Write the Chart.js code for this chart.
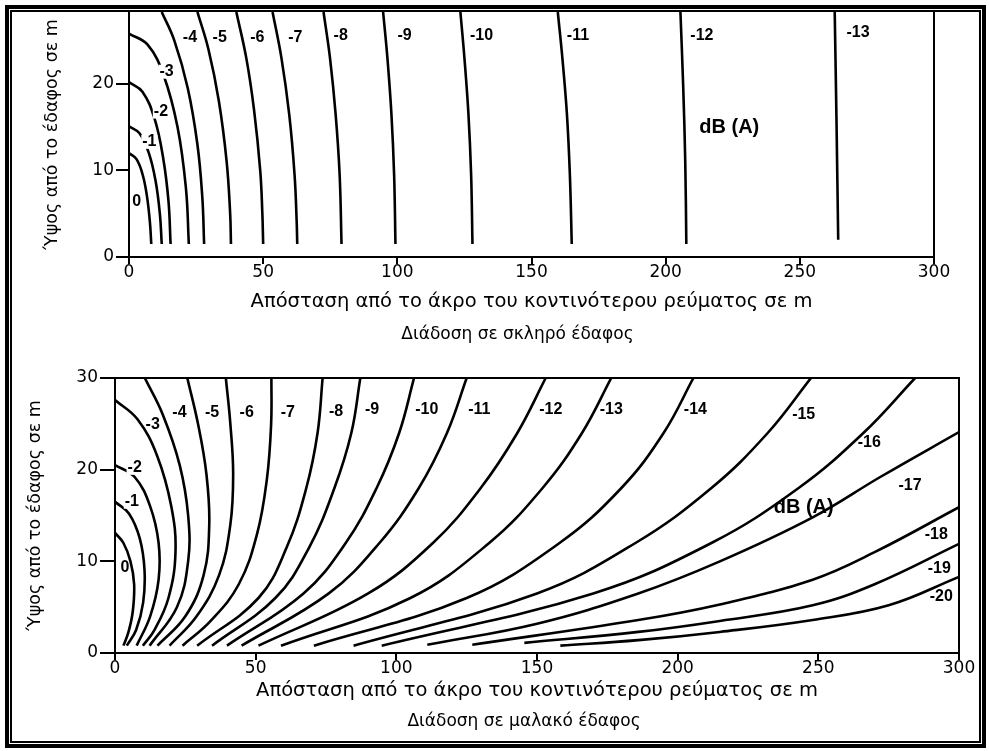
<!DOCTYPE html>
<html><head><meta charset="utf-8">
<script src="https://cdn.jsdelivr.net/npm/chart.js@4"></script>
<style>
html,body{margin:0;padding:0;background:#fff;width:989px;height:751px;overflow:hidden}
#topWrap{position:absolute;left:0;top:0;width:989px;height:360px}
#botWrap{position:absolute;left:0;top:360px;width:989px;height:391px}
.b1{position:absolute;left:5px;top:5px;width:973px;height:735px;border:4px solid #000;pointer-events:none}
.b2{position:absolute;left:10px;top:10px;width:967px;height:729px;border:2px solid #000;pointer-events:none}
</style></head>
<body>
<div id="topWrap"><canvas id="topChart" width="989" height="360"></canvas></div>
<div id="botWrap"><canvas id="botChart" width="989" height="391"></canvas></div>
<div class="b1"></div><div class="b2"></div>
<script>
// ---------- axis ticks ----------
const topXTicks = [0, 50, 100, 150, 200, 250, 300];
const topYTicks = [0, 10, 20];
const botXTicks = [0, 50, 100, 150, 200, 250, 300];
const botYTicks = [0, 10, 20, 30];

// ---------- hard ground contours [distance (m), height (m)] ----------
const hardLevels = ['0','-1','-2','-3','-4','-5','-6','-7','-8','-9','-10','-11','-12','-13'];
const hard0  = [[0,12],[2.8,11.3],[5.1,9.5],[6.7,7],[7.8,4],[8.3,1.5]];
const hard1  = [[0,15.1],[3.9,14.3],[7.4,12],[9.9,8.8],[11.5,5],[12.2,1.5]];
const hard2  = [[0,20.2],[5,19.1],[9.5,16],[12.7,11.5],[14.7,6.5],[15.5,1.5]];
const hard3  = [[0,25.8],[7,24.5],[12.9,21],[18.1,15],[21.2,8],[22.3,1.5]];
const hard4  = [[12.2,28.3],[16.9,25],[21.9,19.5],[25.5,13],[27.3,7],[28,1.5]];
const hard5  = [[25.5,28.3],[29.6,24],[33.5,18],[36.4,11],[37.7,5],[38,1.5]];
const hard6  = [[40,28.3],[43.7,23],[46.6,17],[48.9,10],[49.7,5],[50,1.5]];
const hard7  = [[53.5,28.3],[56.8,23],[59.7,16.5],[61.7,9.5],[62.5,4],[62.7,1.5]];
const hard8  = [[72.5,28.3],[74.9,23],[77,16.5],[78.5,9.5],[79.2,1.5]];
const hard9  = [[94.7,28.3],[96.3,23],[97.8,16.5],[98.8,9.5],[99.3,1.5]];
const hard10 = [[123.5,28.3],[125,23],[126.5,16.5],[127.5,9.5],[128,1.5]];
const hard11 = [[159.8,28.3],[161.5,23],[163.2,16.5],[164.3,9.5],[165,1.5]];
const hard12 = [[205.5,28.3],[206.5,20],[207.3,11],[207.7,1.5]];
const hard13 = [[263,28.3],[263.7,15],[264.3,2]];
const hardCurves = [hard0,hard1,hard2,hard3,hard4,hard5,hard6,hard7,hard8,hard9,hard10,hard11,hard12,hard13];
const hardLabelPos = [[2.9,6.4],[7.6,13.3],[11.9,16.8],[14,21.4],[22.7,25.4],[33.8,25.4],[47.8,25.4],[62,25.4],[78.9,25.6],[102.7,25.6],[131.4,25.6],[167.3,25.6],[213.5,25.6],[271.7,25.9]];
const hardUnitPos = [223.7, 15];

// ---------- soft ground contours ----------
const softLevels = ['0','-1','-2','-3','-4','-5','-6','-7','-8','-9','-10','-11','-12','-13','-14','-15','-16','-17','-18','-19','-20'];
const soft0  = [[0,13.1],[3,12],[5.5,10],[6.8,7.5],[6.3,4.5],[4.8,2.3],[3,0.8]];
const soft1  = [[0,16.5],[5,15.2],[8.8,12.5],[10.5,9],[10,5.5],[7.5,2.5],[4.2,0.8]];
const soft2  = [[0,20.5],[7,19.2],[12.5,16],[15.5,12],[15.5,8],[12.5,4],[7.7,0.8]];
const soft3  = [[0,27.6],[8,25.5],[15,21.5],[20,16],[21.5,11],[19,6],[14,2.5],[9.9,0.8]];
const soft4  = [[10.6,30],[17,26],[23,20.5],[26,15],[26,10],[22,5],[12.3,0.8]];
const soft5  = [[25.7,30],[29.5,25],[32.5,19.5],[33.5,14],[31.5,8.5],[25,4],[15.1,0.8]];
const soft6  = [[39.4,30],[41,25],[42,19.5],[41,14],[37,8.5],[29,4],[19.4,0.8]];
const soft7  = [[55.6,30],[55.5,25],[54,19],[50.5,13],[44,7.5],[34,3.5],[24,0.8]];
const soft8  = [[73.8,30],[72,24],[68,18],[61,11.5],[51,6],[29.2,0.8]];
const soft9  = [[87.2,30],[84,24],[78,18],[69,11.5],[57,6],[34.5,0.8]];
const soft10 = [[106.3,30],[101,24],[93,18],[82,12],[67,6.5],[39.8,0.8]];
const soft11 = [[125,30],[118,24],[108,18],[94,12],[76,6.5],[45,0.8]];
const soft12 = [[153.1,30],[143,24],[130,18],[113,12],[90,6.5],[51,0.8]];
const soft13 = [[176.4,30],[166,24],[152,18],[133,12],[105,6],[59,0.8]];
const soft14 = [[205.6,30],[195,24],[180,18],[158,12],[125,6],[70.7,0.8]];
const soft15 = [[247.4,30],[232,24],[212,18],[185,12],[150,6.5],[84.8,0.8]];
const soft16 = [[284.4,30],[266,24],[243,18],[212,12],[170,6.5],[94.8,0.8]];
const soft17 = [[300,24.1],[272,19.2],[248,14.8],[215,10],[186,6.5],[150,3.2],[111,0.9]];
const soft18 = [[300,15.9],[270,11],[248,8],[215,5.3],[186,3.6],[127,0.9]];
const soft19 = [[300,11.9],[270,7.5],[248,5.2],[215,3.5],[186,2.3],[145.5,1.1]];
const soft20 = [[300,8.3],[275,5.2],[248,3.6],[215,2.3],[186,1.4],[158.3,0.8]];
const softCurves = [soft0,soft1,soft2,soft3,soft4,soft5,soft6,soft7,soft8,soft9,soft10,soft11,soft12,soft13,soft14,soft15,soft16,soft17,soft18,soft19,soft20];
const softLabelPos = [[3.5,9.3],[6,16.5],[7,20.2],[13.4,24.9],[22.9,26.2],[34.5,26.2],[46.8,26.2],[61.4,26.2],[78.6,26.3],[91.4,26.5],[110.8,26.5],[129.5,26.5],[154.9,26.5],[176.4,26.5],[206.3,26.5],[244.8,26],[268.1,22.9],[282.6,18.3],[291.9,12.9],[293,9.2],[293.7,6.1]];
const softUnitPos = [244.8, 15.9];

const titleX = 'Απόσταση από το άκρο του κοντινότερου ρεύματος σε m';
const titleY = 'Ύψος από το έδαφος σε m';
const subHard = 'Διάδοση σε σκληρό έδαφος';
const subSoft = 'Διάδοση σε μαλακό έδαφος';
const unitText = 'dB (A)';

const FONT = "'DejaVu Sans', 'Liberation Sans', sans-serif";
const BOLD = "'Liberation Sans', Arial, sans-serif";

const labelPlugin = {
  id: 'contourLabels',
  afterDatasetsDraw(chart, args, opts) {
    const {ctx, scales: {x, y}} = chart;
    ctx.save();
    ctx.textAlign = 'center';
    ctx.textBaseline = 'middle';
    opts.items.forEach(it => {
      ctx.font = it.font;
      const px = x.getPixelForValue(it.x), py = y.getPixelForValue(it.y);
      if (it.knock) {
        const w = ctx.measureText(it.text).width;
        ctx.fillStyle = '#fff';
        ctx.fillRect(px - w / 2 - 1, py - 7, w + 2, 14);
      }
      ctx.fillStyle = '#000';
      ctx.fillText(it.text, px, py);
    });
    ctx.restore();
  }
};
const framePlugin = {
  id: 'frameLines',
  afterDraw(chart, args, opts) {
    const {ctx, chartArea: a} = chart;
    ctx.save();
    ctx.strokeStyle = '#000';
    ctx.lineWidth = 2;
    ctx.beginPath();
    ctx.moveTo(a.right, a.top); ctx.lineTo(a.right, a.bottom + 7);
    if (opts.top) { ctx.moveTo(a.left - 1, a.top); ctx.lineTo(a.right + 1, a.top); }
    ctx.stroke();
    // caption under the axis title
    ctx.fillStyle = '#000';
    ctx.font = '17px ' + FONT;
    ctx.textAlign = 'center';
    ctx.textBaseline = 'middle';
    ctx.fillText(opts.caption, (a.left + a.right) / 2 + opts.capDx, a.bottom + opts.capDy);
    ctx.restore();
  }
};

function makeChart(id, cfg) {
  const datasets = cfg.curves.map((c, i) => ({
    label: cfg.levels[i],
    data: c.map(p => ({x: p[0], y: p[1]})),
    borderColor: '#000',
    borderWidth: 2.6,
    pointRadius: 0,
    tension: 0.4,
    fill: false
  }));
  const items = cfg.labelPos.map((p, i) => ({text: cfg.levels[i], x: p[0], y: p[1], font: "bold 16px " + BOLD, knock: cfg.knock.includes(i)}));
  items.push({text: unitText, x: cfg.unitPos[0], y: cfg.unitPos[1], font: "bold 20px " + BOLD, knock: false});
  return new Chart(document.getElementById(id), {
    type: 'line',
    data: {datasets},
    plugins: [labelPlugin, framePlugin],
    options: {
      responsive: false,
      animation: false,
      events: [],
      layout: {padding: cfg.padding},
      plugins: {
        legend: {display: false},
        tooltip: {enabled: false},
        title: {display: false},
        contourLabels: {items},
        frameLines: {top: cfg.frameTop, caption: cfg.sub, capDx: cfg.capDx, capDy: cfg.capDy}
      },
      scales: {
        x: {
          type: 'linear', min: 0, max: 300,
          afterBuildTicks: s => { s.ticks = cfg.xTicks.map(v => ({value: v})); },
          afterFit: s => { s.height = cfg.xHeight; },
          border: {display: true, color: '#000', width: 2},
          grid: {drawOnChartArea: false, drawTicks: true, tickLength: 7, color: '#000', lineWidth: 2},
          ticks: {color: '#000', padding: 0.5, font: {family: FONT, size: 17, lineHeight: 1}, maxRotation: 0},
          title: {display: true, text: titleX, color: '#000', font: {family: FONT, size: 19.5, lineHeight: 1.2}, padding: {top: 0, bottom: cfg.xTitlePad}}
        },
        y: {
          type: 'linear', min: 0, max: cfg.yMax,
          afterBuildTicks: s => { s.ticks = cfg.yTicks.map(v => ({value: v})); },
          afterFit: s => { s.width = cfg.yWidth; },
          border: {display: true, color: '#000', width: 2},
          grid: {drawOnChartArea: false, drawTicks: true, tickLength: cfg.yTickLen, color: '#000', lineWidth: 2},
          ticks: {color: '#000', padding: 2, font: {family: FONT, size: 17, lineHeight: 1}},
          title: {display: true, text: titleY, color: '#000', font: {family: FONT, size: 17.5, lineHeight: 1.2}, padding: {top: cfg.yTitlePad, bottom: 0}}
        }
      }
    }
  });
}

makeChart('topChart', {
  curves: hardCurves, levels: hardLevels, labelPos: hardLabelPos, unitPos: hardUnitPos, knock: [1,2,3],
  xTicks: topXTicks, yTicks: topYTicks, yMax: 28.3,
  padding: {left: 0, right: 55, top: 12, bottom: 38},
  sub: subHard, capDx: -14, capDy: 78,
  xHeight: 65, xTitlePad: 8.3,
  yWidth: 129, yTickLen: 13, yTitlePad: 41.5, frameTop: false
});
makeChart('botChart', {
  curves: softCurves, levels: softLevels, labelPos: softLabelPos, unitPos: softUnitPos, knock: [1,2],
  xTicks: botXTicks, yTicks: botYTicks, yMax: 30,
  padding: {left: 0, right: 30, top: 18, bottom: 43},
  sub: subSoft, capDx: -13, capDy: 69,
  xHeight: 55, xTitlePad: 5.3,
  yWidth: 115, yTickLen: 15, yTitlePad: 24.5, frameTop: true
});
</script>
</body></html>
